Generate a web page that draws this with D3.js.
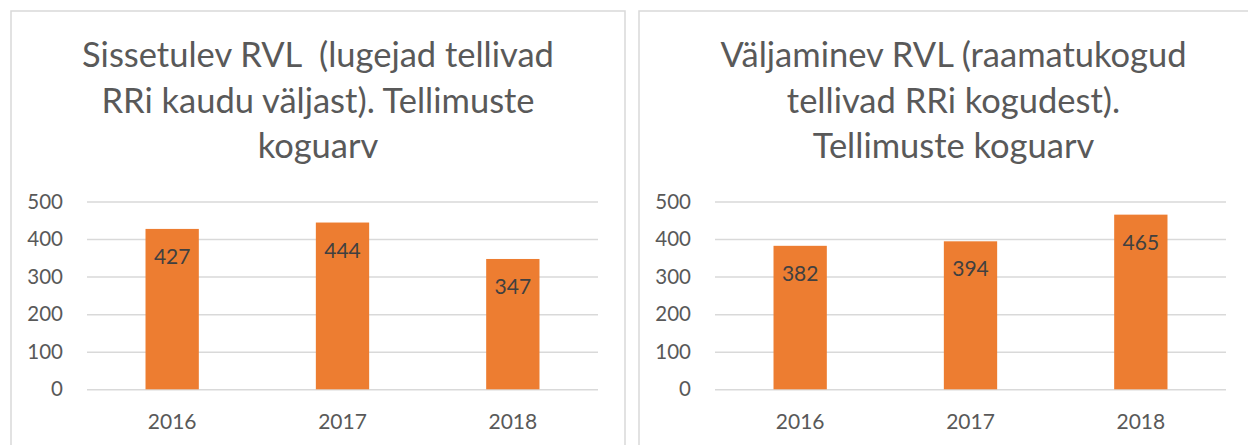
<!DOCTYPE html>
<html>
<head>
<meta charset="utf-8">
<script src="https://cdn.jsdelivr.net/npm/d3@7"></script>
<style>
  body { margin: 0; background: #fff; }
  svg { display: block; font-family: Lato, "Open Sans", sans-serif; }
</style>
</head>
<body>
<svg id="chart" width="1248" height="445"></svg>
<script>
// andmed
const years = ["2016", "2017", "2018"];
const incoming = [427, 444, 347];
const outgoing = [382, 394, 465];
const yTicks = [0, 100, 200, 300, 400, 500];
const titleIn = ["Sissetulev RVL  (lugejad tellivad", "RRi kaudu väljast). Tellimuste", "koguarv"];
const titleOut = ["Väljaminev RVL (raamatukogud", "tellivad RRi kogudest).", "Tellimuste koguarv"];

const svg = d3.select("#chart");
const textColor = "#595959";
const gridColor = "#d9d9d9";
const barColor = "#ed7d31";

const panels = [
  { x: 11, w: 614, title: titleIn, values: incoming },
  { x: 639, w: 629, title: titleOut, values: outgoing }
];

const plotTop = 201.5, plotBottom = 389.3;
const y = d3.scaleLinear().domain([0, 500]).range([plotBottom, plotTop]);

panels.forEach(p => {
  const g = svg.append("g").attr("transform", `translate(${p.x},0)`);

  g.append("rect")
    .attr("x", 0).attr("y", 11)
    .attr("width", p.w).attr("height", 460)
    .attr("fill", "#fff")
    .attr("stroke", gridColor).attr("stroke-width", 1.5);

  // pealkiri
  g.append("text")
    .attr("text-anchor", "middle")
    .attr("fill", textColor)
    .style("font-size", "34.5px")
    .style("white-space", "pre")
    .selectAll("tspan")
    .data(p.title)
    .join("tspan")
    .attr("x", p.w / 2)
    .attr("y", (d, i) => 67 + i * 45.5)
    .text(d => d);

  const plotLeft = 76, plotW = 511;
  const x = d3.scaleBand().domain(years).range([plotLeft, plotLeft + plotW]);

  const yAxis = g.append("g")
    .attr("transform", `translate(${plotLeft},0)`)
    .call(d3.axisLeft(y).tickValues(yTicks).tickSize(-plotW).tickPadding(24));
  yAxis.select(".domain").remove();
  yAxis.selectAll(".tick line").attr("stroke", gridColor).attr("stroke-width", 1.5);
  yAxis.selectAll(".tick text")
    .attr("fill", textColor)
    .style("font-size", "20.5px")
    .style("font-family", "Lato, sans-serif");

  const xAxis = g.append("g")
    .attr("transform", `translate(0,${plotBottom})`)
    .call(d3.axisBottom(x).tickSize(0).tickPadding(24.5));
  xAxis.select(".domain").remove();
  xAxis.selectAll(".tick text")
    .attr("fill", textColor)
    .style("font-size", "21px")
    .style("font-family", "Lato, sans-serif");

  const barW = x.bandwidth() * 0.313;
  const rows = years.map((yr, i) => ({ yr, v: p.values[i] }));

  g.selectAll("rect.bar")
    .data(rows)
    .join("rect")
    .attr("class", "bar")
    .attr("x", d => x(d.yr) + x.bandwidth() / 2 - barW / 2)
    .attr("y", d => y(d.v))
    .attr("width", barW)
    .attr("height", d => y(0) - y(d.v))
    .attr("fill", barColor);

  g.selectAll("text.val")
    .data(rows)
    .join("text")
    .attr("class", "val")
    .attr("x", d => x(d.yr) + x.bandwidth() / 2)
    .attr("y", d => y(d.v) + 35)
    .attr("text-anchor", "middle")
    .attr("fill", "#404040")
    .style("font-size", "21px")
    .text(d => d.v);
});
</script>
</body>
</html>
